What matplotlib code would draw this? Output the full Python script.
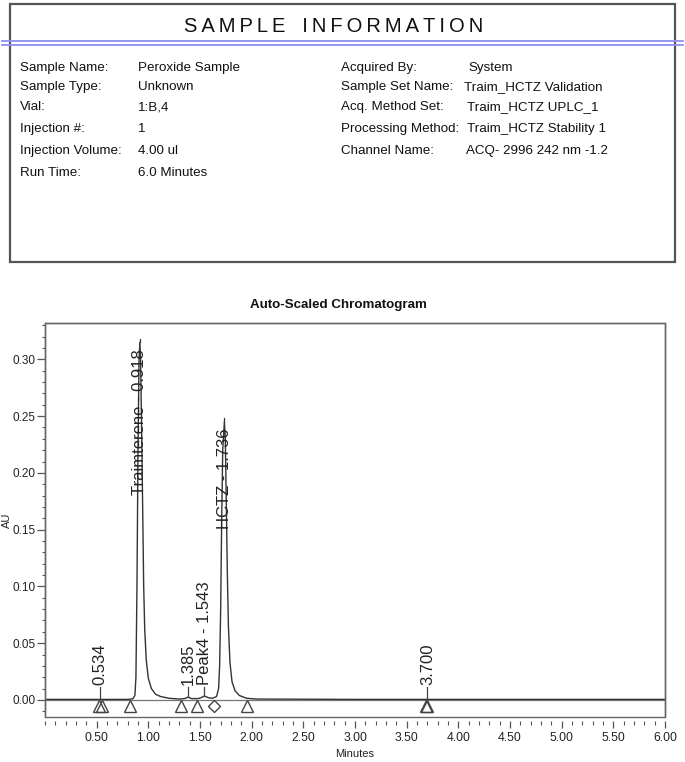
import matplotlib
matplotlib.use("Agg")
import matplotlib.pyplot as plt
from matplotlib.patches import Rectangle
from matplotlib.ticker import MultipleLocator, FormatStrFormatter

# ---------------- data ----------------
info_left_labels = ["Sample Name:", "Sample Type:", "Vial:", "Injection #:", "Injection Volume:", "Run Time:"]
info_left_values = ["Peroxide Sample", "Unknown", "1:B,4", "1", "4.00 ul", "6.0 Minutes"]
info_right_labels = ["Acquired By:", "Sample Set Name:", "Acq. Method Set:", "Processing Method:", "Channel Name:"]
info_right_values = ["System", "Traim_HCTZ Validation", "Traim_HCTZ UPLC_1", "Traim_HCTZ Stability 1", "ACQ- 2996 242 nm -1.2"]

trace_time = [0.0, 0.50, 0.80, 0.85, 0.87, 0.88, 0.89, 0.90, 0.91, 0.918, 0.925, 0.935,
              0.945, 0.955, 0.965, 0.98, 1.00, 1.03, 1.07, 1.12, 1.20, 1.30, 1.35, 1.385,
              1.42, 1.48, 1.51, 1.543, 1.58, 1.62, 1.66, 1.68, 1.69, 1.70, 1.71, 1.72,
              1.736, 1.745, 1.755, 1.765, 1.775, 1.79, 1.81, 1.84, 1.88, 1.95, 2.05, 3.0, 6.0]
trace_au = [0.0005, 0.0005, 0.0005, 0.001, 0.004, 0.02, 0.10, 0.22, 0.30, 0.315, 0.30, 0.24,
            0.17, 0.10, 0.062, 0.035, 0.019, 0.010, 0.005, 0.003, 0.0015, 0.0008, 0.0012, 0.0025,
            0.0012, 0.0012, 0.002, 0.0035, 0.002, 0.0015, 0.003, 0.01, 0.03, 0.08, 0.16, 0.22,
            0.245, 0.23, 0.17, 0.11, 0.065, 0.033, 0.016, 0.008, 0.004, 0.0015, 0.0008, 0.0005, 0.0005]

peak_rt = [0.534, 0.918, 1.385, 1.543, 1.736, 3.700]
peak_names = ["0.534", "Traimterene - 0.918", "1.385", "Peak4 - 1.543", "HCTZ - 1.736", "3.700"]
peak_apex = [0.0005, 0.315, 0.0025, 0.0035, 0.245, 0.0005]

tri_marks = [0.52, 0.555, 0.82, 1.32, 1.47, 1.95, 3.685, 3.70]
diamond_marks = [1.64]

# ---------------- fonts ----------------
FONT = ["Liberation Sans", "DejaVu Sans"]
plt.rcParams["font.family"] = FONT

W, H = 685, 762
fig = plt.figure(figsize=(W / 100, H / 100), dpi=100)

# overlay in pixel coordinates for the header
ov = fig.add_axes([0, 0, 1, 1])
ov.set_xlim(0, W)
ov.set_ylim(H, 0)
ov.axis("off")

ov.add_patch(Rectangle((10, 4), 665, 258, fill=False, edgecolor="#555555", lw=1.6))
ov.plot([2, 683], [41, 41], color="#8f8ff0", lw=1.3)
ov.plot([2, 683], [44.5, 44.5], color="#8f8ff0", lw=1.3)
title_txt = "\u2009".join("SAMPLE") + "   " + "\u2009".join("INFORMATION")
ov.text(334, 27, title_txt, ha="center", va="center", fontsize=14.5, color="#111111")

left_rows = [68, 87, 107, 129, 151, 173]
for y, lab, val in zip(left_rows, info_left_labels, info_left_values):
    ov.text(20, y, lab, ha="left", va="center", fontsize=9.6, color="#111111")
    ov.text(138, y, val, ha="left", va="center", fontsize=9.6, color="#111111")
right_x_val = [468, 464, 467, 467, 466]
for y, lab, val, xv in zip(left_rows, info_right_labels, info_right_values, right_x_val):
    ov.text(341, y, lab, ha="left", va="center", fontsize=9.6, color="#111111")
    ov.text(xv, y, val, ha="left", va="center", fontsize=9.6, color="#111111")

ov.text(338, 305, "Auto-Scaled Chromatogram", ha="center", va="center",
        fontsize=9.6, fontweight="bold", color="#111111")
ov.text(7, 520, "AU", ha="center", va="center", rotation=90, fontsize=8, color="#222222")
ov.text(355, 754, "Minutes", ha="center", va="center", fontsize=8, color="#222222")

# ---------------- chromatogram ----------------
ax = fig.add_axes([45 / W, 1 - 717 / H, 620 / W, 394 / H])
ax.set_xlim(0, 6.0)
ax.set_ylim(-0.015, 0.332)

ax.axhline(0.0, color="#777777", lw=0.9, zorder=1)
ax.plot(trace_time, trace_au, color="#333333", lw=1.0, zorder=2)

ax.plot(tri_marks, [-0.0055] * len(tri_marks), linestyle="none", marker="^", markersize=9,
        mfc="none", mec="#444444", mew=1.0, zorder=3)
ax.plot(diamond_marks, [-0.0055] * len(diamond_marks), linestyle="none", marker="D", markersize=6,
        mfc="none", mec="#444444", mew=1.0, zorder=3)

for rt, name, apex in zip(peak_rt, peak_names, peak_apex):
    if apex > 0.1:
        ax.plot([rt, rt], [apex, apex + 0.003], color="#333333", lw=0.9)
        ax.text(rt, apex - 0.006, name, rotation=90, ha="center", va="top",
                fontsize=12, color="#222222")
    else:
        ax.plot([rt, rt], [apex, 0.0115], color="#444444", lw=0.9)
        ax.text(rt, 0.0135, name, rotation=90, ha="center", va="bottom",
                fontsize=12, color="#222222")

for s in ax.spines.values():
    s.set_color("#666666")
    s.set_linewidth(1.0)
ax.spines["bottom"].set_position(("outward", 3))
ax.spines["bottom"].set_visible(False)
ax.add_patch(Rectangle((0, 0), 1, 1, transform=ax.transAxes, fill=False,
                       edgecolor="#666666", lw=1.0, clip_on=False, zorder=5))

ax.set_xticks([0.5, 1.0, 1.5, 2.0, 2.5, 3.0, 3.5, 4.0, 4.5, 5.0, 5.5, 6.0])
ax.xaxis.set_minor_locator(MultipleLocator(0.1))
ax.xaxis.set_major_formatter(FormatStrFormatter("%.2f"))
ax.yaxis.set_major_locator(MultipleLocator(0.05))
ax.yaxis.set_minor_locator(MultipleLocator(0.01))
ax.yaxis.set_major_formatter(FormatStrFormatter("%.2f"))
ax.tick_params(axis="x", which="major", direction="out", length=5, width=0.9, color="#555555",
               labelsize=8.7, pad=2.5, labelcolor="#222222")
ax.tick_params(axis="x", which="minor", direction="out", length=3, width=0.8, color="#555555")
ax.tick_params(axis="y", which="major", direction="out", length=6, width=0.9, color="#555555",
               labelsize=8.5, pad=1, labelcolor="#222222")
ax.tick_params(axis="y", which="minor", direction="out", length=2.5, width=0.8, color="#555555")

fig.savefig("out.png", dpi=100)
